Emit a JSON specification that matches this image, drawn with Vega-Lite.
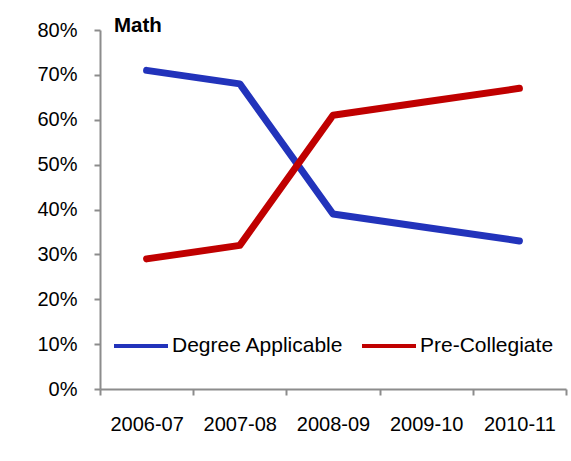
{
  "$schema": "https://vega.github.io/schema/vega-lite/v6.json",
  "autosize": {"type": "none"},
  "padding": {"left": 100, "top": 30, "right": 5, "bottom": 72},
  "width": 466,
  "height": 359,
  "background": "white",
  "title": {"text": "Math", "anchor": "start", "frame": "group", "dx": 14, "dy": 17, "offset": 1, "fontSize": 20.5, "fontWeight": "bold", "font": "Liberation Sans", "color": "black"},
  "config": {
    "view": {"stroke": null},
    "font": "Liberation Sans",
    "axis": {"domainColor": "#8c8c8c", "domainWidth": 2, "tickColor": "#8c8c8c", "tickWidth": 2, "tickSize": 6, "labelColor": "black", "labelFont": "Liberation Sans", "labelFontSize": 20, "grid": false, "title": null}
  },
  "data": {"values": [
    {"year": "2006-07", "series": "Degree Applicable", "value": 0.71},
    {"year": "2007-08", "series": "Degree Applicable", "value": 0.68},
    {"year": "2008-09", "series": "Degree Applicable", "value": 0.39},
    {"year": "2009-10", "series": "Degree Applicable", "value": 0.36},
    {"year": "2010-11", "series": "Degree Applicable", "value": 0.33},
    {"year": "2006-07", "series": "Pre-Collegiate", "value": 0.29},
    {"year": "2007-08", "series": "Pre-Collegiate", "value": 0.32},
    {"year": "2008-09", "series": "Pre-Collegiate", "value": 0.61},
    {"year": "2009-10", "series": "Pre-Collegiate", "value": 0.64},
    {"year": "2010-11", "series": "Pre-Collegiate", "value": 0.67}
  ]},
  "mark": {"type": "line", "strokeWidth": 7, "strokeCap": "round", "strokeJoin": "round"},
  "encoding": {
    "x": {"field": "year", "type": "ordinal", "bandPosition": 0.5,
      "scale": {"type": "band", "paddingInner": 0, "paddingOuter": 0},
      "axis": {"labelAngle": 0, "tickBand": "extent", "labelPadding": 19}},
    "y": {"field": "value", "type": "quantitative",
      "scale": {"domain": [0, 0.8], "nice": false},
      "axis": {"values": [0, 0.1, 0.2, 0.3, 0.4, 0.5, 0.6, 0.7, 0.8], "format": ".0%", "labelPadding": 17}},
    "color": {"field": "series", "type": "nominal",
      "scale": {"domain": ["Degree Applicable", "Pre-Collegiate"], "range": ["#2233BB", "#C00000"]},
      "legend": {"title": null, "orient": "none", "legendX": 12, "legendY": 287, "direction": "horizontal",
        "symbolType": "stroke", "symbolSize": 2916, "symbolStrokeWidth": 4, "symbolOffset": 0,
        "labelFontSize": 21, "labelFont": "Liberation Sans", "labelColor": "black", "labelOffset": 2, "labelLimit": 0, "columnPadding": 10, "padding": 0}}
  }
}
